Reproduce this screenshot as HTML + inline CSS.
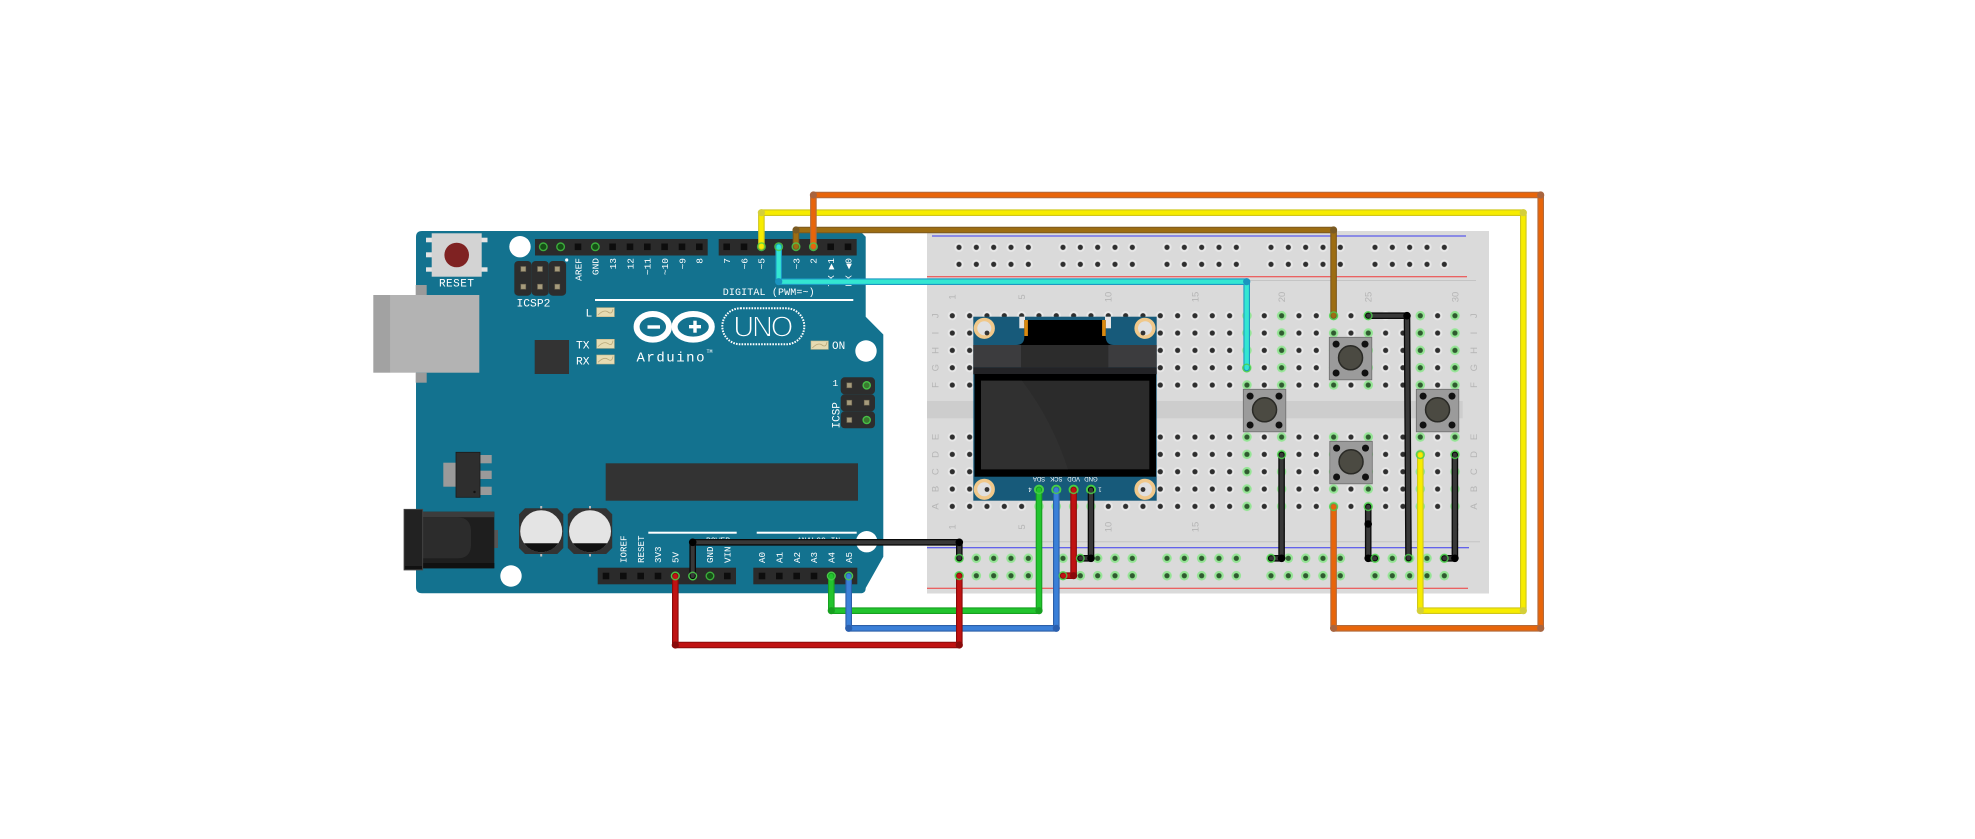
<!DOCTYPE html>
<html><head><meta charset="utf-8"><title>Arduino OLED breadboard</title>
<style>
html,body{margin:0;padding:0;background:#fff;}
svg{display:block;}
.w{fill:#fff;font-family:"Liberation Mono","DejaVu Sans Mono",monospace;}
.bb{fill:#b5b5b5;font-family:"Liberation Sans",sans-serif;font-size:9.5px;}
.ol{fill:#fff;font-family:"Liberation Sans",sans-serif;font-size:6px;}
</style></head><body>
<svg width="1975" height="839" viewBox="0 0 1975 839" xmlns="http://www.w3.org/2000/svg">
<defs>
 <pattern id="hm" patternUnits="userSpaceOnUse" x="943.633" y="307.03" width="17.333" height="17.333">
  <circle cx="8.667" cy="8.667" r="4.6" fill="#e8e8e8"/>
  <circle cx="8.667" cy="8.667" r="2.6" fill="#2e2e2e"/>
 </pattern>
 <pattern id="gm" patternUnits="userSpaceOnUse" x="943.633" y="307.03" width="17.333" height="17.333">
  <circle cx="8.667" cy="8.667" r="4.8" fill="#95e495"/>
  <circle cx="8.667" cy="8.667" r="2.6" fill="#2f5a2f"/>
 </pattern>
 <pattern id="ht" patternUnits="userSpaceOnUse" x="950.333" y="238.8" width="17.333" height="17">
  <circle cx="8.667" cy="8.5" r="4.6" fill="#e8e8e8"/>
  <circle cx="8.667" cy="8.5" r="2.6" fill="#2e2e2e"/>
 </pattern>
 <pattern id="gb" patternUnits="userSpaceOnUse" x="950.333" y="549.6" width="17.333" height="17.4">
  <circle cx="8.667" cy="8.7" r="4.8" fill="#95e495"/>
  <circle cx="8.667" cy="8.7" r="2.6" fill="#2f5a2f"/>
 </pattern>
</defs>

<rect width="1975" height="839" fill="#fff"/>

<!-- ================= ARDUINO ================= -->
<path d="M422,231 L860,231 L865.7,236.7 L865.7,316.7 L883.3,334.5 L883.3,556.7 L865.7,588 Q865.7,593.3 860.4,593.3 L422,593.3 Q416,593.3 416,587.3 L416,237 Q416,231 422,231 Z" fill="#13728f"/>

<!-- USB -->
<rect x="415.7" y="285" width="11" height="10" fill="#9a9a9a"/>
<rect x="415.7" y="372.7" width="11" height="10" fill="#9a9a9a"/>
<rect x="373.3" y="295" width="17.4" height="77.7" fill="#a2a2a2"/>
<rect x="390.7" y="295" width="88.6" height="77.7" fill="#b3b3b3"/>

<!-- Reset -->
<rect x="426" y="237.7" width="6" height="4.6" fill="#e4e4e4"/>
<rect x="426" y="252.3" width="6" height="5" fill="#e4e4e4"/>
<rect x="426" y="267.3" width="6" height="4.4" fill="#e4e4e4"/>
<rect x="481.5" y="237.7" width="6" height="4.6" fill="#e4e4e4"/>
<rect x="481.5" y="267.3" width="6" height="4.4" fill="#e4e4e4"/>
<rect x="431.7" y="233.3" width="50" height="43.4" fill="#d3d3d3"/>
<circle cx="456.7" cy="255" r="12.3" fill="#7f2222"/>
<text class="w" x="456.7" y="286.5" font-size="11" text-anchor="middle" letter-spacing="0.5">RESET</text>

<!-- mounting holes -->
<circle cx="520" cy="246.7" r="10.7" fill="#fff"/>
<circle cx="866" cy="351" r="10.7" fill="#fff"/>
<circle cx="511" cy="576" r="10.7" fill="#fff"/>
<circle cx="866.7" cy="541.7" r="10.7" fill="#fff"/>

<!-- ICSP2 -->
<rect x="514.3" y="261" width="17.2" height="34.7" rx="4" fill="#2d2d2d"/>
<rect x="531.6" y="261" width="17.2" height="34.7" rx="4" fill="#2d2d2d"/>
<rect x="548.9" y="261" width="17.2" height="34.7" rx="4" fill="#2d2d2d"/>
<g fill="#a69b7c" stroke="#6e6650" stroke-width="0.6">
<rect x="520.8" y="266.5" width="5" height="5"/><rect x="537.5" y="266.5" width="5" height="5"/><rect x="554.8" y="266.5" width="5" height="5"/>
<rect x="520.8" y="284.2" width="5" height="5"/><rect x="537.5" y="284.2" width="5" height="5"/><rect x="554.8" y="284.2" width="5" height="5"/>
</g>
<circle cx="566.7" cy="260" r="1.6" fill="#fff"/>
<text class="w" x="516.5" y="306.7" font-size="11.3">ICSP2</text>

<!-- top headers -->
<rect x="535" y="239" width="172.7" height="16.5" fill="#2b2b2b"/>
<rect x="718.7" y="239" width="138" height="16.5" fill="#2b2b2b"/>
<g fill="#0d0d0d">
<rect x="540" y="243.5" width="6.6" height="6.6"/><rect x="557.3" y="243.5" width="6.6" height="6.6"/><rect x="574.7" y="243.5" width="6.6" height="6.6"/><rect x="592" y="243.5" width="6.6" height="6.6"/><rect x="609.3" y="243.5" width="6.6" height="6.6"/><rect x="626.7" y="243.5" width="6.6" height="6.6"/><rect x="644" y="243.5" width="6.6" height="6.6"/><rect x="661.3" y="243.5" width="6.6" height="6.6"/><rect x="678.7" y="243.5" width="6.6" height="6.6"/><rect x="696" y="243.5" width="6.6" height="6.6"/>
<rect x="723.4" y="243.5" width="6.6" height="6.6"/><rect x="740.7" y="243.5" width="6.6" height="6.6"/><rect x="758.1" y="243.5" width="6.6" height="6.6"/><rect x="775.4" y="243.5" width="6.6" height="6.6"/><rect x="792.7" y="243.5" width="6.6" height="6.6"/><rect x="810.1" y="243.5" width="6.6" height="6.6"/><rect x="827.4" y="243.5" width="6.6" height="6.6"/><rect x="844.7" y="243.5" width="6.6" height="6.6"/>
</g>
<g fill="#164f16" stroke="#3cae3c" stroke-width="1.4">
<circle cx="543.3" cy="246.8" r="3.8"/><circle cx="560.6" cy="246.8" r="3.8"/><circle cx="595.3" cy="246.8" r="3.8"/>
</g>

<!-- top header labels -->
<g class="w" font-size="9.5" text-anchor="end">
<text transform="translate(578,258) rotate(-90)" dy="0.35em">AREF</text>
<text transform="translate(595.3,258) rotate(-90)" dy="0.35em">GND</text>
<text transform="translate(612.6,258) rotate(-90)" dy="0.35em">13</text>
<text transform="translate(630,258) rotate(-90)" dy="0.35em">12</text>
<text transform="translate(647.3,258) rotate(-90)" dy="0.35em">~11</text>
<text transform="translate(664.6,258) rotate(-90)" dy="0.35em">~10</text>
<text transform="translate(682,258) rotate(-90)" dy="0.35em">~9</text>
<text transform="translate(699.3,258) rotate(-90)" dy="0.35em">8</text>
<text transform="translate(726.7,258) rotate(-90)" dy="0.35em">7</text>
<text transform="translate(744,258) rotate(-90)" dy="0.35em">~6</text>
<text transform="translate(761.4,258) rotate(-90)" dy="0.35em">~5</text>
<text transform="translate(778.7,258) rotate(-90)" dy="0.35em">4</text>
<text transform="translate(796,258) rotate(-90)" dy="0.35em">~3</text>
<text transform="translate(813.4,258) rotate(-90)" dy="0.35em">2</text>
<text transform="translate(830.7,258) rotate(-90)" dy="0.35em">TX  ▶1</text>
<text transform="translate(848,258) rotate(-90)" dy="0.35em">RX  ◀0</text>
</g>
<text class="w" x="722.7" y="295" font-size="10" textLength="92">DIGITAL (PWM=~)</text>
<rect x="595" y="299" width="258.3" height="2" fill="#fff"/>

<!-- LEDs -->
<g fill="#e6dbb2" stroke="#c8b98a" stroke-width="0.6">
<rect x="596.7" y="307.7" width="17.6" height="9"/>
<rect x="596.7" y="339.3" width="17.6" height="9"/>
<rect x="596.7" y="355" width="17.6" height="9"/>
<rect x="811" y="341" width="17.3" height="8.3"/>
</g>
<g stroke="#b9a87a" stroke-width="0.8" fill="none">
<path d="M598,315 Q604,309 608,312 T613,309"/>
<path d="M598,346.6 Q604,340.6 608,343.6 T613,340.6"/>
<path d="M598,362.3 Q604,356.3 608,359.3 T613,356.3"/>
<path d="M812.3,348 Q818,342 822,345 T827,342"/>
</g>
<text class="w" x="585.5" y="316.7" font-size="11.3">L</text>
<text class="w" x="576" y="348.3" font-size="11.3">TX</text>
<text class="w" x="576" y="364.3" font-size="11.3">RX</text>
<text class="w" x="832" y="349" font-size="11">ON</text>

<!-- chip small -->
<rect x="534.7" y="340" width="34.3" height="34" fill="#333"/>

<!-- logo -->
<g fill="none" stroke="#fff" stroke-width="6">
<ellipse cx="652.8" cy="326.8" rx="16.2" ry="12.8"/>
<ellipse cx="693.2" cy="326.8" rx="18.6" ry="12.8"/>
</g>
<rect x="647.5" y="325.3" width="12.5" height="3.4" fill="#fff"/>
<rect x="689" y="325" width="12" height="3.4" fill="#fff"/>
<rect x="693.3" y="320.7" width="3.4" height="12" fill="#fff"/>
<rect x="722.3" y="308.3" width="82" height="36" rx="18" fill="none" stroke="#fff" stroke-width="2" stroke-dasharray="1.6 1.2"/>
<text x="763.3" y="336.7" font-family="Liberation Sans,sans-serif" font-size="29" fill="#fff" stroke="#13728f" stroke-width="1.1" text-anchor="middle" textLength="60">UNO</text>
<text class="w" x="636.5" y="361.7" font-size="14" textLength="68">Arduino</text>
<text class="w" x="706.5" y="353" font-size="5">TM</text>

<!-- ICSP right -->
<rect x="840.7" y="377.3" width="34.3" height="17" rx="4" fill="#2d2d2d"/>
<rect x="840.7" y="394.3" width="34.3" height="17" rx="4" fill="#2d2d2d"/>
<rect x="840.7" y="411.3" width="34.3" height="17" rx="4" fill="#2d2d2d"/>
<g fill="#a69b7c" stroke="#6e6650" stroke-width="0.6">
<rect x="846.8" y="382.8" width="5" height="5"/><rect x="846.8" y="400.2" width="5" height="5"/><rect x="846.8" y="417.5" width="5" height="5"/><rect x="864.2" y="400.2" width="5" height="5"/>
</g>
<g fill="#3a7a30" stroke="#46c046" stroke-width="1.4"><circle cx="866.7" cy="385.3" r="3.6"/><circle cx="866.7" cy="420" r="3.6"/></g>
<text class="w" x="832.5" y="386" font-size="9.5">1</text>
<text class="w" transform="translate(835.5,428.5) rotate(-90)" dy="0.35em" font-size="11">ICSP</text>

<!-- regulator -->
<rect x="443.3" y="462.7" width="13.4" height="24" fill="#9a9a9a"/>
<rect x="480" y="455" width="11.7" height="8.3" fill="#9a9a9a"/>
<rect x="480" y="470.7" width="11.7" height="8.3" fill="#9a9a9a"/>
<rect x="480" y="486.7" width="11.7" height="8.3" fill="#9a9a9a"/>
<rect x="456" y="452.3" width="24" height="45" fill="#2e2e2e" stroke="#1a1a1a" stroke-width="0.8"/>
<circle cx="474.5" cy="492" r="1.2" fill="#111"/>

<!-- ATmega -->
<rect x="605.7" y="463.3" width="252.3" height="37.4" fill="#333"/>

<!-- power jack -->
<rect x="494" y="530" width="4" height="18" fill="#555"/>
<rect x="422.7" y="511.7" width="71.6" height="56.6" fill="#1e1e1e"/>
<rect x="422.7" y="511.7" width="71.6" height="5.5" fill="#3c3c3c"/>
<path d="M422.7,517.5 L458,517.5 Q470,517.5 471,530 L471,546 Q470,558.3 458,558.3 L422.7,558.3 Z" fill="#2c2c2c"/>
<rect x="422.7" y="563" width="71.6" height="5.3" fill="#111"/>
<rect x="404" y="509.3" width="18.7" height="60.7" fill="#222" stroke="#4a4a4a" stroke-width="0.8"/>
<rect x="405" y="566" width="17" height="3" fill="#111"/>

<!-- capacitors -->
<path d="M525,508.3 L557.3,508.3 L563.3,514.3 L563.3,548 L557.3,554 L525,554 L519,548 L519,514.3 Z" fill="#333"/>
<circle cx="541.2" cy="531.2" r="21" fill="#e4e4e4"/>
<path d="M524.04,543.3 A21 21 0 0 0 558.36,543.3 Z" fill="#111"/>
<path d="M573.8,508.3 L606.2,508.3 L612.2,514.3 L612.2,548 L606.2,554 L573.8,554 L567.8,548 L567.8,514.3 Z" fill="#333"/>
<circle cx="590" cy="531.2" r="21" fill="#e4e4e4"/>
<path d="M572.84,543.3 A21 21 0 0 0 607.16,543.3 Z" fill="#111"/>
<g fill="#bdbdbd"><rect x="540.2" y="506" width="2" height="2.5"/><rect x="540.2" y="554" width="2" height="2.5"/><rect x="589" y="506" width="2" height="2.5"/><rect x="589" y="554" width="2" height="2.5"/></g>

<!-- bottom lines & labels -->
<rect x="648.3" y="531.7" width="88.4" height="2" fill="#fff"/>
<rect x="756.7" y="531.7" width="100" height="2" fill="#fff"/>
<text class="w" x="706" y="543" font-size="8">POWER</text>
<text class="w" x="797" y="543" font-size="8">ANALOG IN</text>
<g class="w" font-size="9.2">
<text transform="translate(623.3,563) rotate(-90)" dy="0.35em">IOREF</text>
<text transform="translate(640.7,563) rotate(-90)" dy="0.35em">RESET</text>
<text transform="translate(658,563) rotate(-90)" dy="0.35em">3V3</text>
<text transform="translate(675.3,563) rotate(-90)" dy="0.35em">5V</text>
<text transform="translate(692.7,563) rotate(-90)" dy="0.35em">GND</text>
<text transform="translate(710,563) rotate(-90)" dy="0.35em">GND</text>
<text transform="translate(727.3,563) rotate(-90)" dy="0.35em">VIN</text>
<text transform="translate(762,563) rotate(-90)" dy="0.35em">A0</text>
<text transform="translate(779.3,563) rotate(-90)" dy="0.35em">A1</text>
<text transform="translate(796.7,563) rotate(-90)" dy="0.35em">A2</text>
<text transform="translate(814,563) rotate(-90)" dy="0.35em">A3</text>
<text transform="translate(831.3,563) rotate(-90)" dy="0.35em">A4</text>
<text transform="translate(848.7,563) rotate(-90)" dy="0.35em">A5</text>
</g>

<!-- bottom headers -->
<rect x="597.7" y="567.7" width="138.3" height="16.6" fill="#2b2b2b"/>
<rect x="753.3" y="567.7" width="104" height="16.6" fill="#2b2b2b"/>
<g fill="#0d0d0d">
<rect x="602.7" y="572.7" width="6.6" height="6.6"/><rect x="620" y="572.7" width="6.6" height="6.6"/><rect x="637.4" y="572.7" width="6.6" height="6.6"/><rect x="654.7" y="572.7" width="6.6" height="6.6"/><rect x="672" y="572.7" width="6.6" height="6.6"/><rect x="689.4" y="572.7" width="6.6" height="6.6"/><rect x="706.7" y="572.7" width="6.6" height="6.6"/><rect x="724" y="572.7" width="6.6" height="6.6"/>
<rect x="758.7" y="572.7" width="6.6" height="6.6"/><rect x="776" y="572.7" width="6.6" height="6.6"/><rect x="793.4" y="572.7" width="6.6" height="6.6"/><rect x="810.7" y="572.7" width="6.6" height="6.6"/><rect x="828" y="572.7" width="6.6" height="6.6"/><rect x="845.4" y="572.7" width="6.6" height="6.6"/>
</g>
<g fill="#164f16" stroke="#3cae3c" stroke-width="1.4">
<circle cx="675.3" cy="576" r="3.8"/><circle cx="692.7" cy="576" r="3.8"/><circle cx="710" cy="576" r="3.8"/><circle cx="831.3" cy="576" r="3.8"/><circle cx="848.7" cy="576" r="3.8"/>
</g>

<!-- ================= BREADBOARD ================= -->
<rect x="927" y="231" width="562" height="362.5" fill="#dadada"/>
<rect x="927" y="401" width="535.7" height="17.3" fill="#cdcdcd"/>
<line x1="932" y1="236" x2="1466" y2="236" stroke="#3b3bf0" stroke-width="1"/>
<line x1="927" y1="276.8" x2="1467" y2="276.8" stroke="#f03a3a" stroke-width="1"/>
<line x1="927" y1="280.5" x2="1476" y2="280.5" stroke="#c4c4c4" stroke-width="1"/>
<line x1="927" y1="541.7" x2="1480" y2="541.7" stroke="#c4c4c4" stroke-width="1"/>
<line x1="927" y1="547.7" x2="1469" y2="547.7" stroke="#3b3bf0" stroke-width="1"/>
<line x1="927" y1="588.3" x2="1468" y2="588.3" stroke="#f03a3a" stroke-width="1"/>

<!-- rails -->
<rect x="950.333" y="238.8" width="86.665" height="34" fill="url(#ht)"/>
<rect x="1054.333" y="238.8" width="86.665" height="34" fill="url(#ht)"/>
<rect x="1158.333" y="238.8" width="86.665" height="34" fill="url(#ht)"/>
<rect x="1262.333" y="238.8" width="86.665" height="34" fill="url(#ht)"/>
<rect x="1366.333" y="238.8" width="86.665" height="34" fill="url(#ht)"/>
<rect x="950.333" y="549.6" width="86.665" height="34.8" fill="url(#gb)"/>
<rect x="1054.333" y="549.6" width="86.665" height="34.8" fill="url(#gb)"/>
<rect x="1158.333" y="549.6" width="86.665" height="34.8" fill="url(#gb)"/>
<rect x="1262.333" y="549.6" width="86.665" height="34.8" fill="url(#gb)"/>
<rect x="1366.333" y="549.6" width="86.665" height="34.8" fill="url(#gb)"/>

<!-- main holes -->
<rect x="943.633" y="307.03" width="520" height="86.667" fill="url(#hm)"/>
<rect x="943.633" y="428.37" width="520" height="86.667" fill="url(#hm)"/>
<!-- green columns -->
<g fill="url(#gm)">
<rect x="1238.294" y="307.03" width="17.333" height="86.667"/><rect x="1238.294" y="428.37" width="17.333" height="86.667"/>
<rect x="1272.96" y="307.03" width="17.333" height="86.667"/><rect x="1272.96" y="428.37" width="17.333" height="86.667"/>
<rect x="1324.959" y="307.03" width="17.333" height="86.667"/><rect x="1324.959" y="428.37" width="17.333" height="86.667"/>
<rect x="1359.625" y="307.03" width="17.333" height="86.667"/><rect x="1359.625" y="428.37" width="17.333" height="86.667"/>
<rect x="1411.624" y="307.03" width="17.333" height="86.667"/><rect x="1411.624" y="428.37" width="17.333" height="86.667"/>
<rect x="1446.29" y="307.03" width="17.333" height="86.667"/><rect x="1446.29" y="428.37" width="17.333" height="86.667"/>
<rect x="1030.298" y="497.7" width="69.333" height="17.333"/>
</g>

<!-- breadboard labels -->
<g class="bb" text-anchor="middle">
<text transform="translate(952.3,297) rotate(-90)" dy="0.35em">1</text>
<text transform="translate(1021.6,297) rotate(-90)" dy="0.35em">5</text>
<text transform="translate(1108.3,297) rotate(-90)" dy="0.35em">10</text>
<text transform="translate(1195,297) rotate(-90)" dy="0.35em">15</text>
<text transform="translate(1281.6,297) rotate(-90)" dy="0.35em">20</text>
<text transform="translate(1368.3,297) rotate(-90)" dy="0.35em">25</text>
<text transform="translate(1455,297) rotate(-90)" dy="0.35em">30</text>
<text transform="translate(952.3,527) rotate(-90)" dy="0.35em">1</text>
<text transform="translate(1021.6,527) rotate(-90)" dy="0.35em">5</text>
<text transform="translate(1108.3,527) rotate(-90)" dy="0.35em">10</text>
<text transform="translate(1195,527) rotate(-90)" dy="0.35em">15</text>
<text transform="translate(1281.6,527) rotate(-90)" dy="0.35em">20</text>
<text transform="translate(1368.3,527) rotate(-90)" dy="0.35em">25</text>
<text transform="translate(1455,527) rotate(-90)" dy="0.35em">30</text>
<text transform="translate(935,315.7) rotate(-90)" dy="0.35em">J</text>
<text transform="translate(935,333) rotate(-90)" dy="0.35em">I</text>
<text transform="translate(935,350.4) rotate(-90)" dy="0.35em">H</text>
<text transform="translate(935,367.7) rotate(-90)" dy="0.35em">G</text>
<text transform="translate(935,385) rotate(-90)" dy="0.35em">F</text>
<text transform="translate(935,437) rotate(-90)" dy="0.35em">E</text>
<text transform="translate(935,454.4) rotate(-90)" dy="0.35em">D</text>
<text transform="translate(935,471.7) rotate(-90)" dy="0.35em">C</text>
<text transform="translate(935,489) rotate(-90)" dy="0.35em">B</text>
<text transform="translate(935,506.4) rotate(-90)" dy="0.35em">A</text>
<text transform="translate(1473.5,315.7) rotate(-90)" dy="0.35em">J</text>
<text transform="translate(1473.5,333) rotate(-90)" dy="0.35em">I</text>
<text transform="translate(1473.5,350.4) rotate(-90)" dy="0.35em">H</text>
<text transform="translate(1473.5,367.7) rotate(-90)" dy="0.35em">G</text>
<text transform="translate(1473.5,385) rotate(-90)" dy="0.35em">F</text>
<text transform="translate(1473.5,437) rotate(-90)" dy="0.35em">E</text>
<text transform="translate(1473.5,454.4) rotate(-90)" dy="0.35em">D</text>
<text transform="translate(1473.5,471.7) rotate(-90)" dy="0.35em">C</text>
<text transform="translate(1473.5,489) rotate(-90)" dy="0.35em">B</text>
<text transform="translate(1473.5,506.4) rotate(-90)" dy="0.35em">A</text>
</g>

<!-- ================= OLED ================= -->
<rect x="973.3" y="316.7" width="183.4" height="184" fill="#175a7a"/>
<rect x="1019.3" y="316.7" width="5.7" height="11.6" fill="#e6e6e6"/>
<rect x="1105" y="316.7" width="6" height="11.6" fill="#e6e6e6"/>
<path d="M1024.3,320 L1105.7,320 L1105.7,337 Q1106,345 1114,345 L1016,345 Q1024.3,345 1024.3,337 Z" fill="#000"/>
<rect x="1024.3" y="320" width="3.6" height="16" fill="#d98a10"/>
<rect x="1102.1" y="320" width="3.6" height="16" fill="#d98a10"/>
<rect x="973.3" y="345" width="183.4" height="22.3" fill="#3c3c3e"/>
<rect x="1021" y="345" width="87.3" height="22.3" fill="#2c2c2c"/>
<rect x="973.3" y="367.3" width="183.4" height="7" fill="#232326"/>
<rect x="974.5" y="374" width="181.5" height="102.7" fill="#000"/>
<rect x="981" y="380.7" width="168.3" height="88.6" fill="#2b2b2b"/>
<path d="M981,380.7 L1022,380.7 Q1052,420 1068,469.3 L981,469.3 Z" fill="#303030"/>
<g fill="#e0e0e0" stroke="#f0c88a" stroke-width="3.6">
<circle cx="984.3" cy="328.3" r="8.8"/><circle cx="1145" cy="328.3" r="8.8"/>
<circle cx="984.3" cy="489.3" r="8.8"/><circle cx="1145" cy="489.3" r="8.8"/>
</g>
<g fill="#333"><circle cx="987" cy="333" r="2.4"/><circle cx="1143" cy="333" r="2.4"/><circle cx="987" cy="489.5" r="2.4"/><circle cx="1143" cy="489.5" r="2.4"/></g>
<g class="ol" text-anchor="middle">
<text transform="rotate(180 1039 479)" x="1039" y="481">SDA</text>
<text transform="rotate(180 1056.3 479)" x="1056.3" y="481">SCK</text>
<text transform="rotate(180 1073.6 479)" x="1073.6" y="481">VDD</text>
<text transform="rotate(180 1091 479)" x="1091" y="481">GND</text>
<text transform="rotate(180 1030 489.7)" x="1030" y="492">4</text>
<text transform="rotate(180 1100 489.7)" x="1100" y="492">1</text>
</g>
<g fill="#2a5a2a" stroke="#3fd33f" stroke-width="1.5">
<circle cx="1039" cy="489.7" r="4.3"/><circle cx="1056.3" cy="489.7" r="4.3"/><circle cx="1073.6" cy="489.7" r="4.3"/><circle cx="1091" cy="489.7" r="4.3"/>
</g>

<!-- ================= BUTTONS ================= -->
<g id="btns">
<g transform="translate(1243.3,389.3)">
<rect width="42.5" height="42.5" fill="#9b9b9b" stroke="#6d6d6d" stroke-width="0.8"/>
<circle cx="6.8" cy="6.8" r="3.5" fill="#111"/><circle cx="35.7" cy="6.8" r="3.5" fill="#111"/><circle cx="6.8" cy="35.7" r="3.5" fill="#111"/><circle cx="35.7" cy="35.7" r="3.5" fill="#111"/>
<circle cx="21.25" cy="20.5" r="12" fill="#4b4a42" stroke="#2a2a26" stroke-width="1.5"/>
</g>
<g transform="translate(1329.3,337.3)">
<rect width="42.5" height="42.5" fill="#9b9b9b" stroke="#6d6d6d" stroke-width="0.8"/>
<circle cx="6.8" cy="6.8" r="3.5" fill="#111"/><circle cx="35.7" cy="6.8" r="3.5" fill="#111"/><circle cx="6.8" cy="35.7" r="3.5" fill="#111"/><circle cx="35.7" cy="35.7" r="3.5" fill="#111"/>
<circle cx="21.25" cy="20.5" r="12" fill="#4b4a42" stroke="#2a2a26" stroke-width="1.5"/>
</g>
<g transform="translate(1329.8,441.3)">
<rect width="42.5" height="42.5" fill="#9b9b9b" stroke="#6d6d6d" stroke-width="0.8"/>
<circle cx="6.8" cy="6.8" r="3.5" fill="#111"/><circle cx="35.7" cy="6.8" r="3.5" fill="#111"/><circle cx="6.8" cy="35.7" r="3.5" fill="#111"/><circle cx="35.7" cy="35.7" r="3.5" fill="#111"/>
<circle cx="21.25" cy="20.5" r="12" fill="#4b4a42" stroke="#2a2a26" stroke-width="1.5"/>
</g>
<g transform="translate(1416.3,389.3)">
<rect width="42.5" height="42.5" fill="#9b9b9b" stroke="#6d6d6d" stroke-width="0.8"/>
<circle cx="6.8" cy="6.8" r="3.5" fill="#111"/><circle cx="35.7" cy="6.8" r="3.5" fill="#111"/><circle cx="6.8" cy="35.7" r="3.5" fill="#111"/><circle cx="35.7" cy="35.7" r="3.5" fill="#111"/>
<circle cx="21.25" cy="20.5" r="12" fill="#4b4a42" stroke="#2a2a26" stroke-width="1.5"/>
</g>
</g>

<!-- ================= WIRES ================= -->
<g fill="none" stroke-linejoin="round" stroke-linecap="round">
<!-- yellow -->
<polyline points="761.4,246.7 761.4,212.7 1523.3,212.7 1523.3,610.7 1420.3,610.7 1420.3,454.7" stroke="#cfc61c" stroke-width="6.6"/>
<polyline points="761.4,246.7 761.4,212.7 1523.3,212.7 1523.3,610.7 1420.3,610.7 1420.3,454.7" stroke="#f7ec00" stroke-width="4.4"/>
<!-- brown -->
<polyline points="796,246.7 796,230 1333.6,230 1333.6,315.7" stroke="#7c5a20" stroke-width="6.6"/>
<polyline points="796,246.7 796,230 1333.6,230 1333.6,315.7" stroke="#9d6d12" stroke-width="4.4"/>
<!-- orange -->
<polyline points="813.4,246.7 813.4,195 1540.7,195 1540.7,628.3 1333.6,628.3 1333.6,506.7" stroke="#b06a3c" stroke-width="6.6"/>
<polyline points="813.4,246.7 813.4,195 1540.7,195 1540.7,628.3 1333.6,628.3 1333.6,506.7" stroke="#e8650a" stroke-width="4.4"/>
<!-- cyan -->
<polyline points="778.7,246.7 778.7,281.7 1246.7,281.7 1246.7,368" stroke="#1c98c2" stroke-width="6.6"/>
<polyline points="778.7,246.7 778.7,281.7 1246.7,281.7 1246.7,368" stroke="#33e6d2" stroke-width="4.4"/>
<!-- green -->
<polyline points="831.3,576 831.3,610.7 1039,610.7 1039,489.7" stroke="#17a020" stroke-width="6.6"/>
<polyline points="831.3,576 831.3,610.7 1039,610.7 1039,489.7" stroke="#22c42e" stroke-width="4.4"/>
<!-- blue -->
<polyline points="848.7,576 848.7,628.3 1056.3,628.3 1056.3,489.7" stroke="#2c5fa8" stroke-width="6.6"/>
<polyline points="848.7,576 848.7,628.3 1056.3,628.3 1056.3,489.7" stroke="#3b80d8" stroke-width="4.4"/>
<!-- red -->
<polyline points="675.3,576 675.3,645 959.3,645 959.3,575.7" stroke="#8a0a0a" stroke-width="6.6"/>
<polyline points="675.3,576 675.3,645 959.3,645 959.3,575.7" stroke="#c01212" stroke-width="4.4"/>
<polyline points="1073.6,489.7 1073.6,575.7 1063,575.7" stroke="#8a0a0a" stroke-width="6.6"/>
<polyline points="1073.6,489.7 1073.6,575.7 1063,575.7" stroke="#c01212" stroke-width="4.4"/>
<!-- blacks -->
<g stroke="#0a0a0a" stroke-width="6.6">
<polyline points="692.7,576 692.7,542.3 959.3,542.3 959.3,558.3"/>
<polyline points="1091,489.7 1091,558.3 1080.3,558.3"/>
<polyline points="1281.6,454.7 1281.6,558.3 1271,558.3"/>
<polyline points="1368.2,506.7 1368.2,558.3 1375,558.3"/>
<polyline points="1368.2,315.7 1407,315.7 1408.5,558.3"/>
<polyline points="1454.9,454.7 1454.9,558.3 1444.3,558.3"/>
</g>
<g stroke="#383838" stroke-width="4">
<polyline points="692.7,576 692.7,542.3 959.3,542.3 959.3,558.3"/>
<polyline points="1091,489.7 1091,558.3 1080.3,558.3"/>
<polyline points="1281.6,454.7 1281.6,558.3 1271,558.3"/>
<polyline points="1368.2,506.7 1368.2,558.3 1375,558.3"/>
<polyline points="1368.2,315.7 1407,315.7 1408.5,558.3"/>
<polyline points="1454.9,454.7 1454.9,558.3 1444.3,558.3"/>
</g>
</g>

<!-- bend points -->
<g fill="#d4cf3a"><circle cx="761.4" cy="212.7" r="3.6"/><circle cx="1523.3" cy="212.7" r="3.6"/><circle cx="1523.3" cy="610.7" r="3.6"/><circle cx="1420.3" cy="610.7" r="3.6"/></g>
<g fill="#7a5a22"><circle cx="796" cy="230" r="3.6"/><circle cx="1333.6" cy="230" r="3.6"/></g>
<g fill="#a9653f"><circle cx="813.4" cy="195" r="3.6"/><circle cx="1540.7" cy="195" r="3.6"/><circle cx="1540.7" cy="628.3" r="3.6"/><circle cx="1333.6" cy="628.3" r="3.6"/></g>
<g fill="#1a94c0"><circle cx="778.7" cy="281.7" r="3.6"/><circle cx="1246.7" cy="281.7" r="3.6"/></g>
<g fill="#16a01f"><circle cx="831.3" cy="610.7" r="3.6"/><circle cx="1039" cy="610.7" r="3.6"/></g>
<g fill="#2a5fae"><circle cx="848.7" cy="628.3" r="3.6"/><circle cx="1056.3" cy="628.3" r="3.6"/></g>
<g fill="#8a0a0a"><circle cx="675.3" cy="645" r="3.6"/><circle cx="959.3" cy="645" r="3.6"/><circle cx="1073.6" cy="575.7" r="3.6"/></g>
<g fill="#000"><circle cx="692.7" cy="542.3" r="3.8"/><circle cx="959.3" cy="542.3" r="3.8"/><circle cx="1091" cy="558.3" r="3.8"/><circle cx="1281.6" cy="558.3" r="3.8"/><circle cx="1368.2" cy="524" r="3.8"/><circle cx="1368.2" cy="558.3" r="3.8"/><circle cx="1407" cy="315.7" r="3.8"/><circle cx="1454.9" cy="558.3" r="3.8"/></g>

<!-- wire ends (connected) -->
<g fill="none" stroke="#4ccc4c" stroke-width="1.4" opacity="0.85">
<circle cx="761.4" cy="246.7" r="3.8"/><circle cx="796" cy="246.7" r="3.8"/><circle cx="813.4" cy="246.7" r="3.8"/><circle cx="778.7" cy="246.7" r="3.8"/>
<circle cx="1420.3" cy="454.7" r="3.8"/><circle cx="1333.6" cy="506.7" r="3.8"/><circle cx="1333.6" cy="315.7" r="3.8"/><circle cx="1246.7" cy="368" r="3.8"/>
<circle cx="675.3" cy="576" r="3.8"/><circle cx="692.7" cy="576" r="3.8"/><circle cx="831.3" cy="576" r="3.8"/><circle cx="848.7" cy="576" r="3.8"/>
<circle cx="959.3" cy="558.3" r="3.8"/><circle cx="959.3" cy="575.7" r="3.8"/><circle cx="1063" cy="575.7" r="3.8"/><circle cx="1080.3" cy="558.3" r="3.8"/>
<circle cx="1281.6" cy="454.7" r="3.8"/><circle cx="1271" cy="558.3" r="3.8"/><circle cx="1368.2" cy="506.7" r="3.8"/><circle cx="1375" cy="558.3" r="3.8"/>
<circle cx="1368.2" cy="315.7" r="3.8"/><circle cx="1408.5" cy="558.3" r="3.8"/><circle cx="1454.9" cy="454.7" r="3.8"/><circle cx="1444.3" cy="558.3" r="3.8"/>
<circle cx="1039" cy="489.7" r="3.8"/><circle cx="1056.3" cy="489.7" r="3.8"/><circle cx="1073.6" cy="489.7" r="3.8"/><circle cx="1091" cy="489.7" r="3.8"/>
</g>
</svg>
</body></html>
